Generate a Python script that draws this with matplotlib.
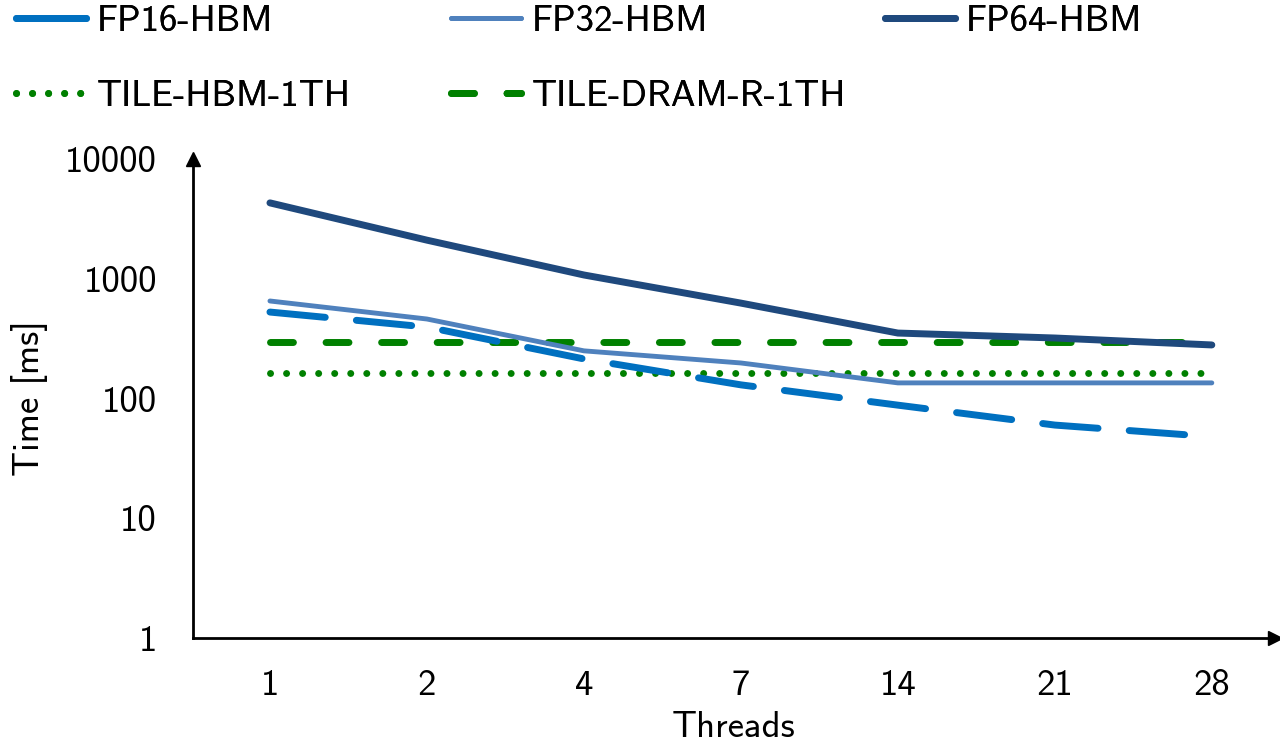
import numpy as np
import matplotlib
matplotlib.use("Agg")
import matplotlib.pyplot as plt
from matplotlib.lines import Line2D

threads = ["1", "2", "4", "7", "14", "21", "28"]
fp16_hbm = [527, 395, 214, 130, 88, 60, 48]
fp32_hbm = [652, 461, 250, 198, 135, 135, 135]
fp64_hbm = [4300, 2100, 1075, 626, 352, 320, 280]
tile_hbm_1th = [163] * 7
tile_dram_r_1th = [297] * 7

yticks = [1, 10, 100, 1000, 10000]


def main():
    plt.rcParams['font.family'] = ['cmss10', 'DejaVu Sans']
    plt.rcParams['axes.unicode_minus'] = False
    plt.rcParams['axes.formatter.use_mathtext'] = False

    fig = plt.figure(figsize=(12.8, 7.45), dpi=100)
    ax = fig.add_axes([0.1508, 0.1436, 0.845, 0.643])

    x = np.arange(len(threads))

    ax.plot(x, tile_dram_r_1th, color='#008000', lw=5, dashes=(3.3, 4.7),
            dash_capstyle='round', label='TILE-DRAM-R-1TH')
    ax.plot(x, tile_hbm_1th, color='#008000', lw=5, dashes=(0.01, 2.3),
            dash_capstyle='round', label='TILE-HBM-1TH')
    ax.plot(x, fp16_hbm, color='#0070C0', lw=5, dashes=(8, 4.5),
            dash_capstyle='round', label='FP16-HBM')
    ax.plot(x, fp32_hbm, color='#4F81BD', lw=3.5, solid_capstyle='round',
            label='FP32-HBM')
    ax.plot(x, fp64_hbm, color='#1F497D', lw=5, solid_capstyle='round',
            label='FP64-HBM')

    ax.set_yscale('log')
    ax.set_ylim(1, 10000)
    ax.set_xlim(-0.49, 6.4)
    ax.set_yticks(yticks)
    ax.set_yticklabels([str(v) for v in yticks])
    ax.minorticks_off()
    ax.set_xticks(x)
    ax.set_xticklabels(threads)
    ax.tick_params(length=0, labelsize=26.5, pad=22)
    ax.tick_params(axis='y', pad=26)

    for s in ['top', 'right']:
        ax.spines[s].set_visible(False)
    for s in ['left', 'bottom']:
        ax.spines[s].set_linewidth(2)
    # arrow heads on axes
    ax.plot(1, 0, '>', color='k', ms=10, transform=ax.transAxes, clip_on=False)
    ax.plot(0, 1, '^', color='k', ms=10, transform=ax.transAxes, clip_on=False)

    ax.set_ylabel('Time [ms]', fontsize=26.5, labelpad=12)
    ax.set_xlabel('Threads', fontsize=26.5, labelpad=7)

    # legend: FP16 shows a solid handle; three columns placed by hand
    h16 = Line2D([], [], color='#0070C0', lw=5, solid_capstyle='round')
    hs, ls = ax.get_legend_handles_labels()
    d = dict(zip(ls, hs))
    cols = [
        ([h16, d['TILE-HBM-1TH']], ['FP16-HBM', 'TILE-HBM-1TH'], 16),
        ([d['FP32-HBM'], d['TILE-DRAM-R-1TH']], ['FP32-HBM', 'TILE-DRAM-R-1TH'], 451),
        ([d['FP64-HBM']], ['FP64-HBM'], 885),
    ]
    for h, l, px in cols:
        leg = fig.legend(h, l, loc='upper left', bbox_to_anchor=(px / 1280, 1 - 5 / 745),
                         frameon=False, fontsize=26.5, handlelength=1.9,
                         handletextpad=0.3, labelspacing=1.15,
                         borderpad=0, borderaxespad=0)
        fig.add_artist(leg)

    fig.savefig('out.png', dpi=100)


if __name__ == "__main__":
    main()
